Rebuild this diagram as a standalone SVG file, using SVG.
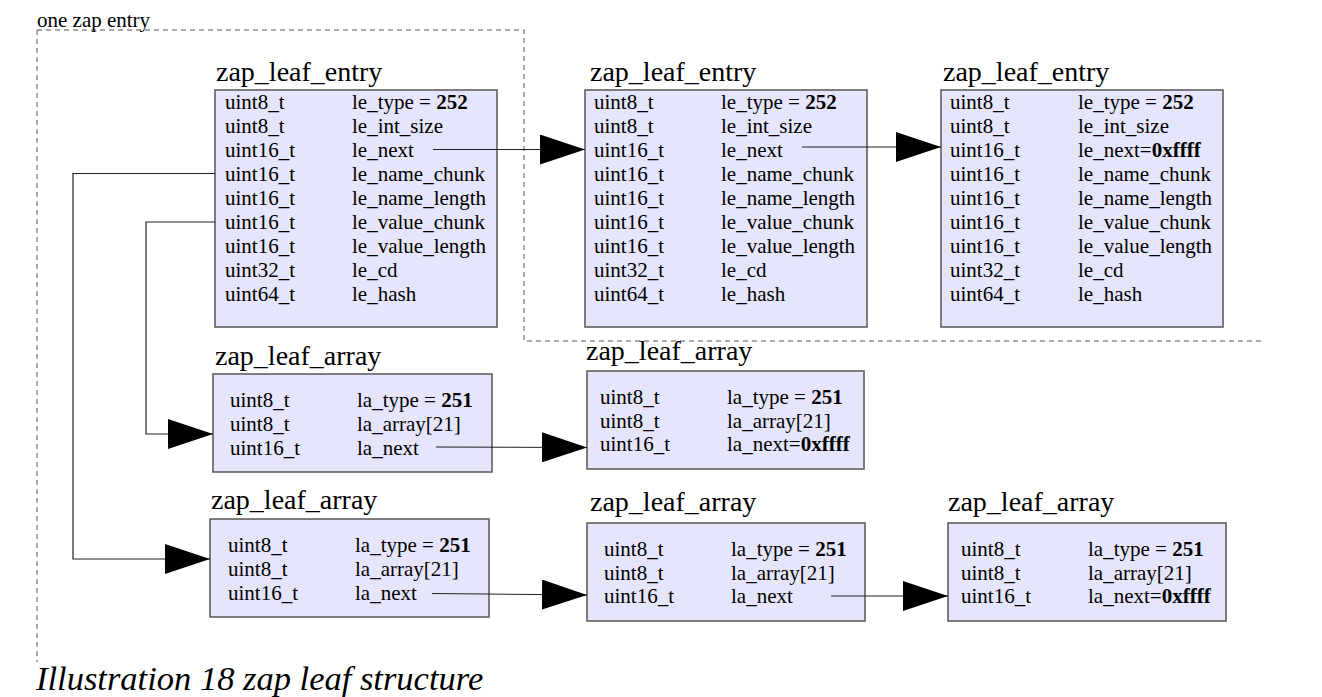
<svg xmlns="http://www.w3.org/2000/svg" width="1322" height="697" viewBox="0 0 1322 697">
<defs>
<marker id="ah" markerUnits="userSpaceOnUse" markerWidth="46" markerHeight="30" refX="45" refY="15" orient="auto">
<path d="M0,0 L45,15 L0,30 Z" fill="#000"/>
</marker>
<style>
.t{font-size:28px}
.r{font-size:21px}
.b{font-weight:bold}
.box{fill:#e5e5fc;stroke:#555;stroke-width:1.5}
.dash{fill:none;stroke:#555;stroke-width:1;stroke-dasharray:5,4}
.c{fill:none;stroke:#222;stroke-width:1.2;marker-end:url(#ah)}
.cap{font-size:34.5px;font-style:italic}
.lbl{font-size:21px}
</style>
</defs>
<rect width="1322" height="697" fill="#fff"/>
<g font-family="Liberation Serif" fill="#000">
<g id="region">
<path class="dash" d="M37,30 H524 V341 H1265"/>
<path class="dash" d="M37,30 V662"/>
<text class="lbl" x="37" y="27">one zap entry</text>
</g>
<g id="entry1">
<text class="t" x="216" y="81">zap_leaf_entry</text>
<rect class="box" x="215" y="90" width="282" height="237"/>
<g class="r">
<text x="225" y="109">uint8_t</text><text x="352" y="109">le_type = <tspan class="b">252</tspan></text>
<text x="225" y="133">uint8_t</text><text x="352" y="133">le_int_size</text>
<text x="225" y="157">uint16_t</text><text x="352" y="157">le_next</text>
<text x="225" y="181">uint16_t</text><text x="352" y="181">le_name_chunk</text>
<text x="225" y="205">uint16_t</text><text x="352" y="205">le_name_length</text>
<text x="225" y="229">uint16_t</text><text x="352" y="229">le_value_chunk</text>
<text x="225" y="253">uint16_t</text><text x="352" y="253">le_value_length</text>
<text x="225" y="277">uint32_t</text><text x="352" y="277">le_cd</text>
<text x="225" y="301">uint64_t</text><text x="352" y="301">le_hash</text>
</g>
</g>
<g id="entry2">
<text class="t" x="590" y="81">zap_leaf_entry</text>
<rect class="box" x="585" y="90" width="282" height="237"/>
<g class="r">
<text x="594" y="109">uint8_t</text><text x="721" y="109">le_type = <tspan class="b">252</tspan></text>
<text x="594" y="133">uint8_t</text><text x="721" y="133">le_int_size</text>
<text x="594" y="157">uint16_t</text><text x="721" y="157">le_next</text>
<text x="594" y="181">uint16_t</text><text x="721" y="181">le_name_chunk</text>
<text x="594" y="205">uint16_t</text><text x="721" y="205">le_name_length</text>
<text x="594" y="229">uint16_t</text><text x="721" y="229">le_value_chunk</text>
<text x="594" y="253">uint16_t</text><text x="721" y="253">le_value_length</text>
<text x="594" y="277">uint32_t</text><text x="721" y="277">le_cd</text>
<text x="594" y="301">uint64_t</text><text x="721" y="301">le_hash</text>
</g>
</g>
<g id="entry3">
<text class="t" x="943" y="81">zap_leaf_entry</text>
<rect class="box" x="941" y="90" width="282" height="237"/>
<g class="r">
<text x="950" y="109">uint8_t</text><text x="1078" y="109">le_type = <tspan class="b">252</tspan></text>
<text x="950" y="133">uint8_t</text><text x="1078" y="133">le_int_size</text>
<text x="950" y="157">uint16_t</text><text x="1078" y="157">le_next=<tspan class="b">0xffff</tspan></text>
<text x="950" y="181">uint16_t</text><text x="1078" y="181">le_name_chunk</text>
<text x="950" y="205">uint16_t</text><text x="1078" y="205">le_name_length</text>
<text x="950" y="229">uint16_t</text><text x="1078" y="229">le_value_chunk</text>
<text x="950" y="253">uint16_t</text><text x="1078" y="253">le_value_length</text>
<text x="950" y="277">uint32_t</text><text x="1078" y="277">le_cd</text>
<text x="950" y="301">uint64_t</text><text x="1078" y="301">le_hash</text>
</g>
</g>
<g id="array1">
<text class="t" x="215" y="365">zap_leaf_array</text>
<rect class="box" x="213" y="374" width="279" height="98"/>
<g class="r">
<text x="230" y="407">uint8_t</text><text x="357" y="407">la_type = <tspan class="b">251</tspan></text>
<text x="230" y="431">uint8_t</text><text x="357" y="431">la_array[21]</text>
<text x="230" y="455">uint16_t</text><text x="357" y="455">la_next</text>
</g>
</g>
<g id="array2">
<text class="t" x="586" y="360">zap_leaf_array</text>
<rect class="box" x="587" y="371" width="277" height="98"/>
<g class="r">
<text x="600" y="404">uint8_t</text><text x="727" y="404">la_type = <tspan class="b">251</tspan></text>
<text x="600" y="428">uint8_t</text><text x="727" y="428">la_array[21]</text>
<text x="600" y="451">uint16_t</text><text x="727" y="451">la_next=<tspan class="b">0xffff</tspan></text>
</g>
</g>
<g id="array3">
<text class="t" x="211" y="509">zap_leaf_array</text>
<rect class="box" x="210" y="519" width="279" height="98"/>
<g class="r">
<text x="228" y="552">uint8_t</text><text x="355" y="552">la_type = <tspan class="b">251</tspan></text>
<text x="228" y="576">uint8_t</text><text x="355" y="576">la_array[21]</text>
<text x="228" y="600">uint16_t</text><text x="355" y="600">la_next</text>
</g>
</g>
<g id="array4">
<text class="t" x="590" y="511">zap_leaf_array</text>
<rect class="box" x="587" y="523" width="278" height="98"/>
<g class="r">
<text x="604" y="556">uint8_t</text><text x="731" y="556">la_type = <tspan class="b">251</tspan></text>
<text x="604" y="580">uint8_t</text><text x="731" y="580">la_array[21]</text>
<text x="604" y="603">uint16_t</text><text x="731" y="603">la_next</text>
</g>
</g>
<g id="array5">
<text class="t" x="948" y="511">zap_leaf_array</text>
<rect class="box" x="948" y="523" width="278" height="98"/>
<g class="r">
<text x="961" y="556">uint8_t</text><text x="1088" y="556">la_type = <tspan class="b">251</tspan></text>
<text x="961" y="580">uint8_t</text><text x="1088" y="580">la_array[21]</text>
<text x="961" y="603">uint16_t</text><text x="1088" y="603">la_next=<tspan class="b">0xffff</tspan></text>
</g>
</g>
<g id="connectors">
<path class="c" d="M433,149.5 H585"/>
<path class="c" d="M802,147 H941"/>
<path class="c" d="M215,173.5 H73 V559 H210"/>
<path class="c" d="M215,222 H146 V434 H213"/>
<path class="c" d="M436,447 L587,447.5"/>
<path class="c" d="M432,593.5 L587,595"/>
<path class="c" d="M831,596 H948"/>
</g>
<text class="cap" x="36" y="690">Illustration 18 zap leaf structure</text>
</g>
</svg>
